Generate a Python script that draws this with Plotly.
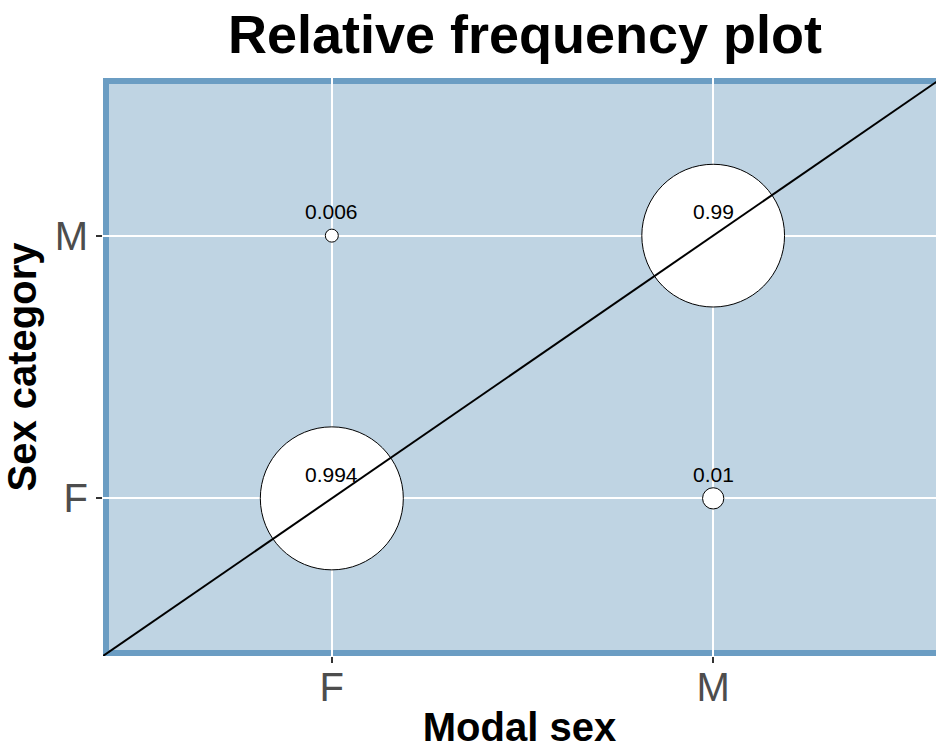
import numpy as np
import plotly.graph_objects as go

# category levels on both axes
categories = ["F", "M"]

# relative frequencies: modal sex (x) vs sex category (y)
modal_sex = ["F", "F", "M", "M"]
sex_category = ["F", "M", "F", "M"]
rel_freq = [0.994, 0.006, 0.01, 0.99]
labels = ["0.994", "0.006", "0.01", "0.99"]

axis_lims = [0.4, 2.6]

W, H = 936, 749
ML, MR, MT, MB = 103, 0, 78, 93
BG = "#bfd4e3"
BORDER = "#6b9dc3"

pos = {c: i + 1 for i, c in enumerate(categories)}
xs = [pos[c] for c in modal_sex]
ys = [pos[c] for c in sex_category]

# ggplot-like area scale: diameter from dmin to dmax over sqrt of rescaled value
v = np.array(rel_freq)
dmin, dmax = 13, 143
sizes = dmin + (dmax - dmin) * np.sqrt((v - v.min()) / (v.max() - v.min()))

# the panel runs slightly past the right edge of the window
pw_full = 839
px_per_unit = pw_full / (axis_lims[1] - axis_lims[0])
pw = W - ML - MR
x_range = [axis_lims[0], axis_lims[0] + pw / px_per_unit]

fig = go.Figure()
fig.add_trace(
    go.Scatter(
        x=xs,
        y=ys,
        mode="markers",
        marker=dict(size=sizes, color="white", opacity=1,
                    line=dict(color="black", width=1)),
        showlegend=False,
        hoverinfo="skip",
    )
)
fig.add_trace(
    go.Scatter(
        x=axis_lims,
        y=axis_lims,
        mode="lines",
        line=dict(color="black", width=2),
        showlegend=False,
        hoverinfo="skip",
    )
)

for x, y, t in zip(xs, ys, labels):
    fig.add_annotation(
        x=x, y=y, text=t, showarrow=False, yshift=24,
        font=dict(size=21, color="black", family="Liberation Sans, Arial"),
    )

# panel border (inside the panel edge, above grid, below marks)
bw = 6
ph = H - MT - MB
fig.add_shape(
    type="rect", xref="paper", yref="paper",
    x0=bw / 2 / pw, x1=(pw_full - bw / 2) / pw,
    y0=bw / 2 / ph, y1=1 - bw / 2 / ph,
    line=dict(color=BORDER, width=bw), fillcolor="rgba(0,0,0,0)", layer="between",
)

axis_common = dict(
    tickvals=[1, 2],
    ticktext=categories,
    showgrid=True,
    gridcolor="white",
    gridwidth=2,
    zeroline=False,
    showline=False,
    ticks="outside",
    ticklen=6,
    tickwidth=1.5,
    tickcolor="#333333",
    tickfont=dict(size=40, color="#4d4d4d", family="Liberation Sans, Arial"),
    automargin=False,
)

fig.update_layout(
    width=W,
    height=H,
    margin=dict(l=ML, r=MR, t=MT, b=MB, autoexpand=False),
    paper_bgcolor="white",
    plot_bgcolor=BG,
    font=dict(family="Liberation Sans, Arial"),
    title=dict(
        text="<b>Relative frequency plot</b>",
        x=525 / W, xref="container", xanchor="center",
        y=1 - 34 / H, yref="container", yanchor="middle",
        font=dict(size=54, color="black"),
    ),
    xaxis=dict(
        range=x_range,
        ticklabelstandoff=-10,
        title=dict(text="<b>Modal sex</b>", font=dict(size=40, color="black"), standoff=12),
        **axis_common,
    ),
    yaxis=dict(
        range=axis_lims,
        title=dict(text="<b>Sex category</b>", font=dict(size=40, color="black"), standoff=6),
        **axis_common,
    ),
)

fig.write_html(
    "out.html",
    config={"displayModeBar": False},
    post_script="document.body.style.margin='0';document.body.style.overflow='hidden';",
)
